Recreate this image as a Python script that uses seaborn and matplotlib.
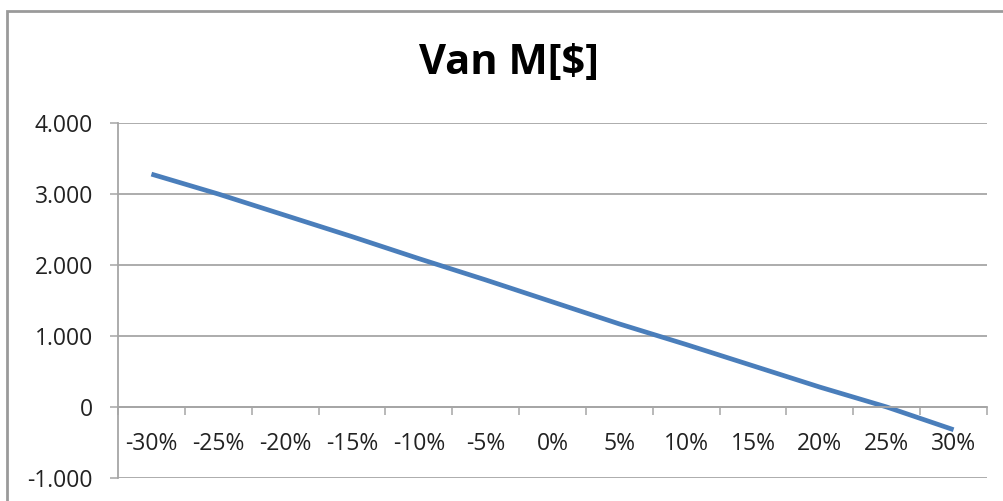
import matplotlib
matplotlib.use("Agg")
import matplotlib.pyplot as plt
import matplotlib.ticker as mticker
from matplotlib.patches import Rectangle
import seaborn as sns
import pandas as pd

# data
variacion = ["-30%", "-25%", "-20%", "-15%", "-10%", "-5%", "0%",
             "5%", "10%", "15%", "20%", "25%", "30%"]
van = [3280, 3000, 2700, 2400, 2090, 1790, 1480,
       1170, 880, 580, 280, 0, -320]
y_ticks = [-1000, 0, 1000, 2000, 3000, 4000]

df = pd.DataFrame({"variacion": variacion, "van": van})

sns.set_theme(style="white")
plt.rcParams["font.family"] = ["Open Sans", "DejaVu Sans"]

fig = plt.figure(figsize=(10.04, 5.01), dpi=100)
ax = fig.add_axes([118 / 1004, 1 - 478 / 501, (987 - 118) / 1004, (478 - 123) / 501])

sns.lineplot(data=df, x="variacion", y="van", sort=False, ax=ax,
             color="#4A7EBB", linewidth=3.4, solid_capstyle="butt")

grey = "#A6A6A6"
ax.set_xlim(-0.5, len(variacion) - 0.5)
ax.set_ylim(y_ticks[0], y_ticks[-1])
ax.set_yticks(y_ticks)
ax.yaxis.set_major_formatter(
    mticker.FuncFormatter(lambda v, p: f"{int(v):,}".replace(",", ".")))
ax.grid(axis="y", color=grey, linewidth=1.3)
ax.set_axisbelow(True)

# category axis crossing at 0, ticks between categories
ax.spines["bottom"].set_position(("data", 0))
ax.spines["bottom"].set_color(grey)
ax.spines["bottom"].set_linewidth(1.3)
ax.spines["left"].set_color(grey)
ax.spines["left"].set_linewidth(1.3)
ax.spines["top"].set_visible(False)
ax.spines["right"].set_visible(False)
ax.set_xticks(range(len(variacion)))
ax.set_xticklabels(variacion)
ax.set_xticks([i + 0.5 for i in range(-1, len(variacion))], minor=True)
ax.tick_params(axis="x", which="major", length=0, pad=18, labelsize=16.5,
               labelcolor="#222222")
ax.tick_params(axis="x", which="minor", bottom=True, direction="out",
               length=5.5, width=1.1, color=grey)
ax.tick_params(axis="y", left=True, direction="out", length=6, width=1.1,
               color=grey, pad=12, labelsize=16.5, labelcolor="#222222")
ax.set_xlabel("")
ax.set_ylabel("")

fig.text(509 / 1004, 1 - 63 / 501, "Van M[$]", ha="center", va="center",
         fontsize=30, fontweight="bold", color="black")

# chart area border
fig.patches.append(Rectangle((7 / 1004, -0.1), 1.2, 1.1 - 11 / 501,
                             transform=fig.transFigure, fill=False,
                             edgecolor="#9A9A9A", linewidth=2))

fig.savefig("out.png", dpi=100, facecolor="white")
